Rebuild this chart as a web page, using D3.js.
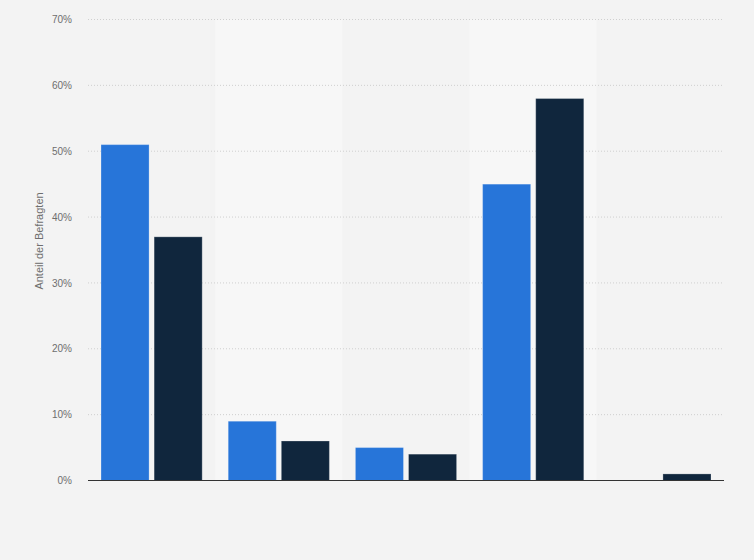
<!DOCTYPE html>
<html>
<head>
<meta charset="utf-8">
<script src="https://cdn.jsdelivr.net/npm/d3@7"></script>
<style>
  html, body { margin: 0; padding: 0; background: #f3f3f3; }
  svg { display: block; font-family: "Liberation Sans", Arial, sans-serif; }
  .grid line { stroke: #cfcfcf; stroke-dasharray: 1,2; }
  .axis text { fill: #6e6e6e; font-size: 10px; }
</style>
</head>
<body>
<div id="chart"></div>
<script>
// chart values
const categories = ["A", "B", "C", "D", "E"]
const seriesNames = ["Serie 1", "Serie 2"]
const seriesA = [51, 9, 5, 45, 0]
const seriesB = [37, 6, 4, 58, 1]
const yTicks = [0, 10, 20, 30, 40, 50, 60, 70]
const yTitle = "Anteil der Befragten"

const colors = ["#2775d9", "#10263d"]

var margin = {top: 19.5, right: 30, bottom: 79.5, left: 88},
    width = 754 - margin.left - margin.right,
    height = 560 - margin.top - margin.bottom;

var svg = d3.select("#chart").append("svg")
    .attr("width", width + margin.left + margin.right)
    .attr("height", height + margin.top + margin.bottom)

svg.append("rect")
    .attr("width", 754).attr("height", 560)
    .attr("fill", "#f3f3f3")

var g = svg.append("g").attr("transform", "translate(" + margin.left + "," + margin.top + ")")

var xScale = d3.scaleBand()
    .domain(categories)
    .range([0, width])

var xInner = d3.scaleBand()
    .domain(seriesNames)
    .range([0, xScale.bandwidth()])
    .paddingInner(0.095)
    .paddingOuter(0.245)

var yScale = d3.scaleLinear()
    .domain([0, 70])
    .range([height, 0])

// alternating column bands
g.selectAll(".band")
  .data(categories)
  .enter().append("rect")
    .attr("class", "band")
    .attr("x", d => xScale(d))
    .attr("y", 0)
    .attr("width", xScale.bandwidth())
    .attr("height", height)
    .attr("fill", (d, i) => i % 2 ? "#f7f7f7" : "#f3f3f3")

// gridlines
g.append("g")
    .attr("class", "grid")
    .selectAll("line")
    .data(yTicks.filter(t => t > 0))
    .enter().append("line")
      .attr("x1", 0)
      .attr("x2", width)
      .attr("y1", d => yScale(d))
      .attr("y2", d => yScale(d))

var yAxis = d3.axisLeft(yScale)
    .tickValues(yTicks)
    .tickFormat(d => d + "%")
    .tickSize(0)
    .tickPadding(16)

g.append("g")
    .attr("class", "axis y")
    .call(yAxis)
    .call(s => s.select(".domain").remove())

var rows = categories.map((c, i) => ({cat: c, values: [seriesA[i], seriesB[i]]}))

var groups = g.selectAll(".group")
  .data(rows)
  .enter().append("g")
    .attr("class", "group")
    .attr("transform", d => "translate(" + xScale(d.cat) + ",0)")

groups.selectAll("rect")
  .data(d => d.values.map((v, j) => ({name: seriesNames[j], value: v, j: j})))
  .enter().append("rect")
    .filter(d => d.value > 0)
    .attr("x", d => xInner(d.name))
    .attr("y", d => yScale(d.value))
    .attr("width", xInner.bandwidth())
    .attr("height", d => height - yScale(d.value))
    .attr("fill", d => colors[d.j])
    .attr("stroke", "#ffffff")
    .attr("stroke-opacity", 0.25)
    .attr("stroke-width", 1)

// baseline
g.append("line")
    .attr("x1", 0)
    .attr("x2", width)
    .attr("y1", height)
    .attr("y2", height)
    .attr("stroke", "#333")
    .attr("stroke-width", 1.2)

svg.append("text")
    .attr("transform", "translate(43," + 241 + ") rotate(-90)")
    .attr("text-anchor", "middle")
    .attr("fill", "#6e6e6e")
    .attr("font-size", "11px")
    .text(yTitle)
</script>
</body>
</html>
